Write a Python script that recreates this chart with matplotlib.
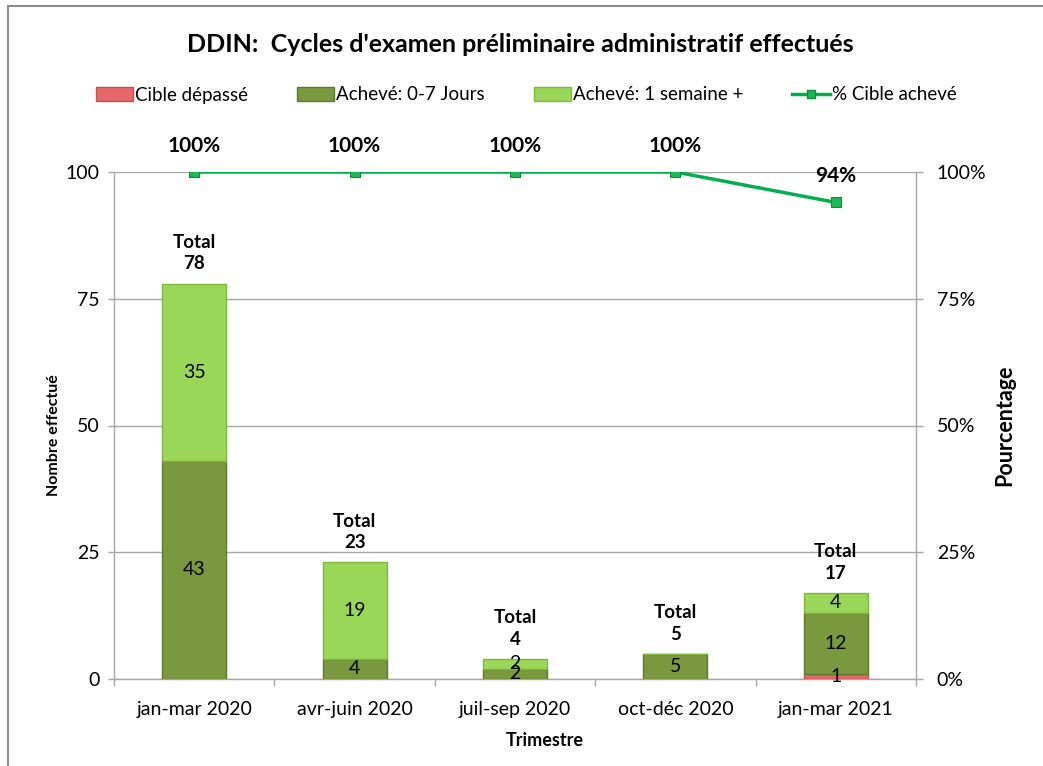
import matplotlib
matplotlib.use('Agg')
import matplotlib.pyplot as plt
from matplotlib.patches import Patch, Rectangle
from matplotlib.lines import Line2D
from matplotlib.ticker import FixedLocator, FuncFormatter

plt.rcParams['font.family'] = ['Lato', 'DejaVu Sans']

quarters = ['jan-mar 2020', 'avr-juin 2020', 'juil-sep 2020', 'oct-déc 2020', 'jan-mar 2021']
cible_depasse = [0, 0, 0, 0, 1]
acheve_0_7 = [43, 4, 2, 5, 12]
acheve_1_sem = [35, 19, 2, 0, 4]
totals = [78, 23, 4, 5, 17]
pct_cible = [100, 100, 100, 100, 94]
y_ticks = [0, 25, 50, 75, 100]
pct_ticks = [0, 25, 50, 75, 100]

RED = '#E5676A'
RED_E = '#C0504D'
DARK = '#7A983D'
DARK_E = '#5E7A2C'
LIGHT = '#9AD658'
LIGHT_E = '#7DB83C'
LINE = '#00B050'
GRID = '#A6A6A6'

W, H = 1043, 766
fig = plt.figure(figsize=(W / 100, H / 100), dpi=100)
ax = fig.add_axes([114 / W, 1 - 679 / H, (916 - 114) / W, (679 - 172) / H])

x = list(range(len(quarters)))
bw = 0.4
series = [(cible_depasse, RED, RED_E), (acheve_0_7, DARK, DARK_E), (acheve_1_sem, LIGHT, LIGHT_E)]
bottoms = [0] * len(x)
for vals, col, ec in series:
    ax.bar(x, vals, bw, bottom=bottoms, color=col, edgecolor=ec, linewidth=1.0, zorder=3)
    for i, v in enumerate(vals):
        if v > 0:
            ax.text(i, bottoms[i] + v / 2, str(v), ha='center', va='center',
                    fontsize=14, color='black', zorder=5)
    bottoms = [b + v for b, v in zip(bottoms, vals)]

for i, t in enumerate(totals):
    ax.annotate(f'Total\n{t}', (i, t), xytext=(0, 8), textcoords='offset points',
                ha='center', va='bottom', fontsize=13.5, fontweight='bold',
                linespacing=1.3, zorder=6)

ax.set_xlim(-0.5, len(x) - 0.5)
ax.set_ylim(0, 100)
ax.yaxis.set_major_locator(FixedLocator(y_ticks))
ax.set_xticks(x)
ax.set_xticklabels(quarters, fontsize=14)
ax.xaxis.set_minor_locator(FixedLocator([i - 0.5 for i in range(len(x) + 1)]))
ax.tick_params(axis='x', which='major', length=0, pad=16)
ax.tick_params(axis='x', which='minor', length=5, color=GRID, width=1)
ax.tick_params(axis='y', which='major', length=4.5, color=GRID, width=1, labelsize=14, pad=6)
ax.yaxis.grid(True, color=GRID, linewidth=1, zorder=0)
ax.set_axisbelow(True)
for s in ['top', 'right']:
    ax.spines[s].set_visible(False)
for s in ['left', 'bottom']:
    ax.spines[s].set_color(GRID)
    ax.spines[s].set_linewidth(1)

ax2 = ax.twinx()
ax2.set_ylim(0, 100)
ax2.plot(x, pct_cible, color=LINE, linewidth=2.5, marker='s', markersize=7,
         markerfacecolor='#1DB954', markeredgecolor='#0E8A3A', markeredgewidth=0.8, zorder=4)
for i, p in enumerate(pct_cible):
    ax2.annotate(f'{p}%', (i, p), xytext=(0, 19), textcoords='offset points',
                 ha='center', va='center', fontsize=15, fontweight='bold')
ax2.yaxis.set_major_locator(FixedLocator(pct_ticks))
ax2.yaxis.set_major_formatter(FuncFormatter(lambda v, p: f'{int(v)}%'))
ax2.tick_params(axis='y', length=5, color=GRID, width=1, labelsize=14, pad=10)
for s in ['top', 'left', 'bottom']:
    ax2.spines[s].set_visible(False)
ax2.spines['right'].set_color(GRID)
ax2.spines['right'].set_linewidth(1)

fig.text(520 / W, 1 - 45 / H, "DDIN:  Cycles d'examen préliminaire administratif effectués",
         ha='center', va='center', fontsize=18, fontweight='bold')
fig.text(54 / W, 1 - 435 / H, 'Nombre effectué', rotation=90, ha='center', va='center',
         fontsize=11.5, fontweight='bold')
fig.text(1005 / W, 1 - 425 / H, 'Pourcentage', rotation=90, ha='center', va='center',
         fontsize=15.5, fontweight='bold')
fig.text(545 / W, 1 - 741 / H, 'Trimestre', ha='center', va='center',
         fontsize=13, fontweight='bold')

handles = [Patch(facecolor=RED, edgecolor=RED_E),
           Patch(facecolor=DARK, edgecolor=DARK_E),
           Patch(facecolor=LIGHT, edgecolor=LIGHT_E),
           Line2D([0], [0], color=LINE, linewidth=2.5, marker='s', markersize=6,
                  markerfacecolor='#1DB954', markeredgecolor='#0E8A3A')]
labels = ['Cible dépassé', 'Achevé: 0-7 Jours', 'Achevé: 1 semaine +', '% Cible achevé']
fig.legend(handles, labels, loc='center', bbox_to_anchor=(526 / W, 1 - 95 / H), ncol=4,
           frameon=False, fontsize=13.5, handlelength=2.0, handleheight=0.8,
           handletextpad=0.1, columnspacing=2.6)

fig.add_artist(Rectangle((8 / W, -0.2), 1.2, 1.2 - 6 / H, transform=fig.transFigure,
                         fill=False, edgecolor='#8C8C8C', linewidth=1.5, clip_on=False))

fig.savefig('out.png', dpi=100)
